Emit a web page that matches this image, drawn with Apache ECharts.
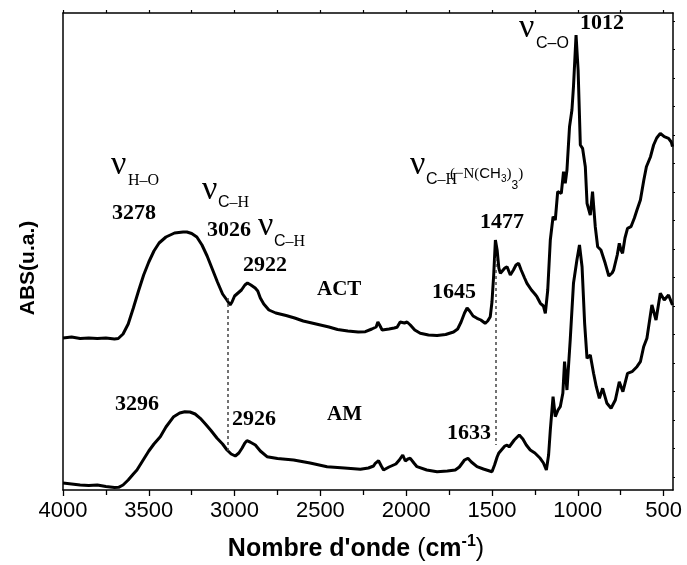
<!DOCTYPE html>
<html><head><meta charset="utf-8">
<script src="https://cdn.jsdelivr.net/npm/echarts@6/dist/echarts.min.js"></script>
<style>html,body{margin:0;padding:0;background:#fff}#c{width:687px;height:565px}</style>
</head><body><div id="c"></div>
<script>
// ---- data (wavenumber cm-1, absorbance in arbitrary units) ----
const majorTicks = [4000, 3500, 3000, 2500, 2000, 1500, 1000, 500];
const minorTicks = [3750, 3250, 2750, 2250, 1750, 1250, 750];
const yTicks = [13, 41.5, 70, 98.5, 127, 155.5, 184, 212.5, 241, 269.5, 298, 326.5, 355, 383.5, 412, 440.5, 469];
const actSpectrum = [
[4000,152],[3950,153],[3900,151.5],[3850,152],[3800,151.5],[3750,152],[3700,151],[3678,151.5],[3650,156],[3620,166],[3590,182],[3560,199],[3530,215],[3500,228],[3470,239],[3440,247],[3400,253],[3350,257],[3300,258],[3278,258],[3250,256.5],[3220,253],[3190,245],[3160,234],[3130,221],[3100,208],[3070,196],[3045,190],[3035,189],[3026,185],[3015,188],[3000,194],[2980,197],[2960,200],[2940,205],[2925,207],[2905,205],[2880,202],[2865,199],[2850,192],[2830,186],[2800,180],[2760,177],[2700,174.5],[2650,172],[2600,169],[2550,167],[2500,165],[2450,163],[2400,160.5],[2340,159],[2280,158],[2238,158.3],[2200,161],[2175,163],[2165,168],[2155,165],[2140,160],[2100,161],[2070,162],[2053,162.7],[2035,168],[2024,170],[2010,167],[1995,168],[1976,165],[1950,160],[1918,156.7],[1870,155],[1820,154.5],[1770,155.5],[1724,158],[1700,161],[1680,168],[1660,177],[1645,182],[1630,179],[1610,174],[1587,171.7],[1565,170],[1540,166.7],[1525,169],[1510,173.3],[1500,188],[1490,215],[1480,250],[1477,252],[1470,240],[1460,222],[1451,216.7],[1440,216],[1425,222],[1412,223.3],[1400,218],[1393,215],[1375,220],[1360,225],[1345,226.7],[1330,220],[1310,212],[1296,206.7],[1270,200],[1250,196],[1238,193.3],[1218,186.7],[1200,184],[1189,176.7],[1175,200],[1160,250],[1144,273.3],[1131,270],[1117,298.3],[1096,296.7],[1083,318.3],[1073,306.7],[1063,320],[1048,363.3],[1034,380],[1025,403.3],[1010,455],[998,420],[985,345],[972,341.7],[956,323.3],[946,286.7],[927,275],[914,298.3],[898,263.3],[884,243.3],[865,240],[840,226.7],[819,214],[800,217],[791,220],[770,235],[758,246.7],[748,240],[739,236.7],[725,252],[710,261.7],[690,263.3],[670,272],[655,280],[635,290],[615,310],[600,323.3],[576,333.3],[558,345],[540,352],[519,356.7],[496,353.3],[471,351.7],[455,348],[448,343.3]
];
const amSpectrum = [
[4000,7],[3950,6],[3900,5],[3850,4.5],[3800,5],[3750,3.5],[3700,2.5],[3676,2.7],[3650,5],[3620,10],[3590,16],[3569,20],[3540,28],[3500,39],[3470,46],[3433,53.3],[3400,63],[3355,73.3],[3320,77],[3290,78.3],[3260,78],[3230,76],[3200,71.7],[3170,66],[3140,60],[3102,51.7],[3070,46],[3044,40],[3020,36],[2996,34],[2975,37],[2957,41.7],[2940,47],[2928,49.3],[2910,48],[2879,45],[2850,39],[2811,33.3],[2750,31.5],[2656,30],[2560,27],[2461,23.3],[2360,22],[2267,20.7],[2220,22],[2190,24],[2180,26.7],[2161,29.3],[2145,24],[2132,20],[2100,23],[2060,26],[2040,30],[2020,35],[2015,36],[2005,29],[1990,31],[1976,31.7],[1955,27],[1937,23.3],[1880,20],[1820,18.3],[1760,19],[1714,20],[1690,23],[1660,30],[1640,31.7],[1620,28],[1587,23.3],[1550,21],[1500,18.3],[1485,25],[1470,33],[1461,36.7],[1440,41],[1425,44],[1412,45],[1400,43],[1393,42.7],[1370,50],[1341,55],[1320,51],[1300,45],[1277,40],[1250,37],[1219,31.7],[1200,27],[1183,20],[1170,35],[1160,60],[1144,93.3],[1131,73.3],[1115,80],[1102,83.3],[1087,96.7],[1077,128.3],[1063,100],[1044,150],[1025,206.7],[1005,230],[990,245],[975,223.3],[960,166.7],[946,131.7],[927,135],[908,116.7],[892,103.3],[874,91.7],[855,101.7],[830,86.7],[806,81.7],[781,90],[758,108.3],[737,98.3],[710,116.7],[684,118.3],[655,123.3],[635,128.3],[616,143.3],[597,151.7],[568,185],[544,170],[519,196.7],[496,190],[471,195],[448,185]
];
// guide lines: [wavenumber, upper value, lower value]
const guideLines = [[3038, 192, 38], [1480, 232, 45]];

// ---- text helpers ----
const SERIF = '"Liberation Serif", "Times New Roman", serif';
const SANS = '"Liberation Sans", Arial, sans-serif';
const mctx = document.createElement('canvas').getContext('2d');
function fnt(p){ return (p.b ? 'bold ' : '') + p.s + 'px ' + p.f; }
function runs(x, base, parts, anchor){
  let total = 0;
  parts.forEach(p => { mctx.font = fnt(p); p.w = mctx.measureText(p.t).width; total += p.w; });
  let cx = anchor === 'center' ? x - total / 2 : x;
  const els = [];
  parts.forEach(p => {
    const mid = base + (p.dy || 0) - 0.34 * p.s;
    els.push({type:'text', x: cx, y: mid, silent:true,
      style:{text:p.t, font:fnt(p), fill:'#000', align:'left', verticalAlign:'middle'}});
    cx += p.w;
  });
  return els;
}
const NU = () => ({t:'ν', s:34, f:SERIF});
const num = t => ({t, s:22, f:SERIF, b:true});
const g = [];
g.push(...runs(111,177,[NU()]), ...runs(128,186,[{t:'H–O',s:16,f:SERIF}]));
g.push(...runs(112,221,[num('3278')]));
g.push(...runs(202,202,[NU()]), ...runs(218,208,[{t:'C',s:16,f:SANS},{t:'–H',s:16,f:SERIF}]));
g.push(...runs(207,238,[num('3026')]));
g.push(...runs(258,238,[NU()]), ...runs(274,247,[{t:'C',s:16,f:SANS},{t:'–H',s:16,f:SERIF}]));
g.push(...runs(243,273,[num('2922')]));
g.push(...runs(317,297,[{t:'ACT',s:21,f:SERIF,b:true}]));
g.push(...runs(432,300,[num('1645')]));
g.push(...runs(480,230,[num('1477')]));
g.push(...runs(410,177,[NU()]), ...runs(426,185,[{t:'C',s:16,f:SANS},{t:'–H',s:16,f:SERIF}]));
g.push(...runs(450,179,[{t:'(−N(',s:15,f:SERIF},{t:'CH',s:15,f:SANS},{t:'3',s:10,f:SANS,dy:4},{t:')',s:15,f:SERIF},{t:'3',s:12,f:SANS,dy:11},{t:')',s:15,f:SERIF}]));
g.push(...runs(519,40,[NU()]), ...runs(536,49,[{t:'C–O',s:16,f:SANS}]));
g.push(...runs(580,31,[num('1012')]));
g.push(...runs(115,412,[num('3296')]));
g.push(...runs(232,427,[num('2926')]));
g.push(...runs(327,422,[{t:'AM',s:21,f:SERIF,b:true}]));
g.push(...runs(447,441,[num('1633')]));
// axis titles
g.push(...runs(356,558,[{t:"Nombre d'onde ",s:25,f:SANS,b:true},{t:'(',s:25,f:SANS},{t:'cm',s:25,f:SANS,b:true},{t:'-1',s:16,f:SANS,b:true,dy:-11},{t:')',s:25,f:SANS}],'center'));
g.push({type:'text', x:28, y:268, rotation:Math.PI/2, silent:true,
  style:{text:'ABS(u.a.)', font:'bold 21px '+SANS, fill:'#000', align:'center', verticalAlign:'middle'}});

const chart = echarts.init(document.getElementById('c'), null, {renderer:'canvas'});
const axisLine = {show:true, lineStyle:{color:'#000', width:1.5}};
chart.setOption({
  animation:false,
  backgroundColor:'#fff',
  grid:{left:63, right:14, top:13, bottom:75},
  xAxis:[
    {type:'value', min:445, max:4000, inverse:true, position:'bottom',
     axisLine, splitLine:{show:false},
     axisTick:{show:true, inside:false, length:6, lineStyle:{color:'#000', width:1.3}, customValues:majorTicks},
     axisLabel:{show:true, customValues:majorTicks, formatter: v => String(v), color:'#000', fontSize:22, fontFamily:SANS, margin:10}},
    {type:'value', min:445, max:4000, inverse:true, position:'bottom',
     axisLine:{show:false}, splitLine:{show:false},
     axisTick:{show:true, inside:false, length:5, lineStyle:{color:'#000', width:1.3}, customValues:minorTicks},
     axisLabel:{show:false}},
    {type:'value', min:445, max:4000, inverse:true, position:'top',
     axisLine, splitLine:{show:false},
     axisTick:{show:true, inside:false, length:3, lineStyle:{color:'#000', width:1.2}, customValues:majorTicks.concat(minorTicks)},
     axisLabel:{show:false}}
  ],
  yAxis:[
    {type:'value', min:0, max:477, position:'left', axisLine, splitLine:{show:false},
     axisTick:{show:false}, axisLabel:{show:false}},
    {type:'value', min:0, max:477, position:'right', axisLine, splitLine:{show:false},
     axisTick:{show:true, inside:false, length:2, lineStyle:{color:'#000', width:1.2}, customValues:yTicks},
     axisLabel:{show:false}}
  ],
  series:[
    {name:'ACT', type:'line', data:actSpectrum, showSymbol:false, symbol:'none',
     lineStyle:{color:'#000', width:3}, itemStyle:{color:'#000'},
     markLine:{silent:true, symbol:'none', label:{show:false},
       lineStyle:{color:'#444', width:1.5, type:[3,3]},
       data: guideLines.map(l => [{coord:[l[0], l[1]]}, {coord:[l[0], l[2]]}])}},
    {name:'AM', type:'line', data:amSpectrum, showSymbol:false, symbol:'none',
     lineStyle:{color:'#000', width:3}, itemStyle:{color:'#000'}}
  ],
  graphic:g
});
</script></body></html>
